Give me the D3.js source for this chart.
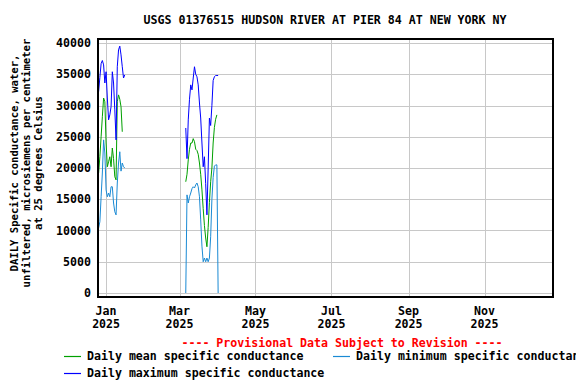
<!DOCTYPE html>
<html>
<head>
<meta charset="utf-8">
<script src="https://cdn.jsdelivr.net/npm/d3@7"></script>
<style>
  body { margin: 0; background: #fff; }
  text { font-family: "DejaVu Sans Mono", monospace; font-weight: bold; fill: #000; }
</style>
</head>
<body>
<div id="chart"></div>
<script>
// Daily specific conductance, Hudson River at Pier 84 (two runs of record)
const janStart = '2024-12-26';
const janMax  = [32200, 34500, 36700, 37200, 36500, 33600, 35400, 31200, 27700, 28500, 29800,
                 35400, 33600, 29300, 24500, 36200, 38900, 39500, 38100, 36200, 34400, 34900];
const janMean = [19200, 21800, 25000, 28200, 31200, 30600, 24000, 20200, 21000, 21800, 20200,
                 23200, 21500, 18600, 18100, 30600, 31700, 31000, 29800, 25800];
const janMin  = [10400, 11400, 15400, 19200, 24500, 22400, 16500, 15400, 16000, 15400, 17000,
                 17000, 14400, 13000, 12500, 17600, 20800, 22600, 19500, 20800, 20200, 20000];

const marStart = '2025-03-06';
const marMax  = [26400, 21500, 27700, 31000, 33300, 32500, 34400, 36200, 35000, 34600, 33300,
                 30400, 28000, 24000, 20200, 21800, 17500, 12500, 20000, 28000, 26800, 30000,
                 34000, 34600, 34800, 34800, 34800];
const marMean = [17800, 19000, 21300, 23000, 24000, 24000, 24700, 24200, 23000, 22800, 22200,
                 20800, 19000, 16500, 13500, 10800, 8800, 7400, 10500, 14500, 17800, 20000,
                 24000, 26500, 27800, 28500];
const marMin  = [0, 15700, 14400, 15400, 16000, 16700, 17000, 16800, 17300, 17600, 17000,
                 15400, 11700, 7500, 5000, 5600, 5000, 5600, 5000, 5600, 9000, 15000,
                 18500, 20300, 20500, 20500, 0];

const yTicks = [0, 5000, 10000, 15000, 20000, 25000, 30000, 35000, 40000];
const xTickMonths = ['2025-01-01', '2025-03-01', '2025-05-01', '2025-07-01', '2025-09-01', '2025-11-01'];

const titleText = 'USGS 01376515 HUDSON RIVER AT PIER 84 AT NEW YORK NY';
const yLabelLines = ['DAILY Specific conductance, water,',
                     'unfiltered, microsiemens per centimeter',
                     'at 25 degrees Celsius'];

const W = 576, H = 384;
const plot = { left: 98, top: 39, right: 553, bottom: 297 };
const FONT = '11.6px';

const svg = d3.select('#chart').append('svg')
    .attr('width', W).attr('height', H);

const x = d3.scaleUtc()
    .domain([new Date(Date.UTC(2024, 11, 25, 12)), new Date(Date.UTC(2025, 11, 26))])
    .range([plot.left, plot.right]);
const y = d3.scaleLinear()
    .domain([-640, 40640])
    .range([plot.bottom, plot.top]);

// turn a start date + values into points, one per day
function series(start, values) {
    const t0 = new Date(start + 'T00:00:00Z');
    const days = d3.utcDay.range(t0, d3.utcDay.offset(t0, values.length));
    return values.map((v, i) => ({ date: days[i], value: v }));
}

// gridlines
svg.append('g').selectAll('line')
    .data(yTicks).enter().append('line')
    .attr('x1', plot.left).attr('x2', plot.right)
    .attr('y1', d => Math.round(y(d)) + 0.5).attr('y2', d => Math.round(y(d)) + 0.5)
    .attr('stroke', '#c8c8c8').attr('stroke-width', 1);

const monthDates = xTickMonths.map(s => new Date(s + 'T00:00:00Z'));
svg.append('g').selectAll('line')
    .data(monthDates).enter().append('line')
    .attr('x1', d => Math.round(x(d)) + 0.5).attr('x2', d => Math.round(x(d)) + 0.5)
    .attr('y1', plot.top).attr('y2', plot.bottom)
    .attr('stroke', '#c8c8c8').attr('stroke-width', 1);

// clip path for data
svg.append('clipPath').attr('id', 'clip').append('rect')
    .attr('x', plot.left).attr('y', plot.top)
    .attr('width', plot.right - plot.left).attr('height', plot.bottom - plot.top);

const line = d3.line()
    .x(d => x(d.date))
    .y(d => y(d.value));

const lines = [
    { data: series(janStart, janMin), color: '#1a8ad4' },
    { data: series(marStart, marMin), color: '#1a8ad4' },
    { data: series(janStart, janMean), color: '#00a000' },
    { data: series(marStart, marMean), color: '#00a000' },
    { data: series(janStart, janMax), color: '#0000ff' },
    { data: series(marStart, marMax), color: '#0000ff' }
];

const g = svg.append('g').attr('clip-path', 'url(#clip)');
lines.forEach(s => {
    g.append('path')
        .datum(s.data)
        .attr('d', line)
        .attr('fill', 'none')
        .attr('stroke', s.color)
        .attr('stroke-width', 1);
});

// border
svg.append('rect')
    .attr('x', plot.left).attr('y', plot.top)
    .attr('width', plot.right - plot.left).attr('height', plot.bottom - plot.top)
    .attr('fill', 'none').attr('stroke', '#000').attr('stroke-width', 2);

// y tick labels
svg.append('g').selectAll('text')
    .data(yTicks).enter().append('text')
    .attr('x', 91).attr('y', d => y(d))
    .attr('dy', '0.35em')
    .attr('text-anchor', 'end')
    .style('font-size', FONT)
    .text(d => d);

// x tick labels (month / year)
const fmtMonth = d3.utcFormat('%b');
const fmtYear = d3.utcFormat('%Y');
const xl = svg.append('g').selectAll('text')
    .data(monthDates).enter().append('text')
    .attr('text-anchor', 'middle')
    .style('font-size', FONT);
xl.append('tspan').attr('x', d => x(d)).attr('y', 315).text(d => fmtMonth(d));
xl.append('tspan').attr('x', d => x(d)).attr('y', 328).text(d => fmtYear(d));

// title
svg.append('text')
    .attr('x', 325).attr('y', 24)
    .attr('text-anchor', 'middle')
    .style('font-size', FONT)
    .text(titleText);

// y axis label
const yl = svg.append('text')
    .attr('transform', 'translate(0,163) rotate(-90)')
    .attr('text-anchor', 'middle')
    .style('font-size', '10.6px');
yLabelLines.forEach((t, i) => {
    yl.append('tspan').attr('x', 0).attr('y', 18 + i * 12).text(t);
});

// provisional note
svg.append('text')
    .attr('x', 342).attr('y', 347)
    .attr('text-anchor', 'middle')
    .style('font-size', FONT)
    .style('fill', '#ff0000')
    .text('---- Provisional Data Subject to Revision ----');

// legend
const legend = [
    { label: 'Daily mean specific conductance', color: '#00a000', x: 64, y: 356 },
    { label: 'Daily minimum specific conductance', color: '#1a8ad4', x: 333, y: 356 },
    { label: 'Daily maximum specific conductance', color: '#0000ff', x: 64, y: 373 }
];
const lg = svg.append('g').selectAll('g')
    .data(legend).enter().append('g');
lg.append('line')
    .attr('x1', d => d.x).attr('x2', d => d.x + 17)
    .attr('y1', d => d.y + 0.5).attr('y2', d => d.y + 0.5)
    .attr('stroke', d => d.color).attr('stroke-width', 1.2);
lg.append('text')
    .attr('x', d => d.x + 23).attr('y', d => d.y)
    .attr('dy', '0.35em')
    .style('font-size', FONT)
    .text(d => d.label);
</script>
</body>
</html>
